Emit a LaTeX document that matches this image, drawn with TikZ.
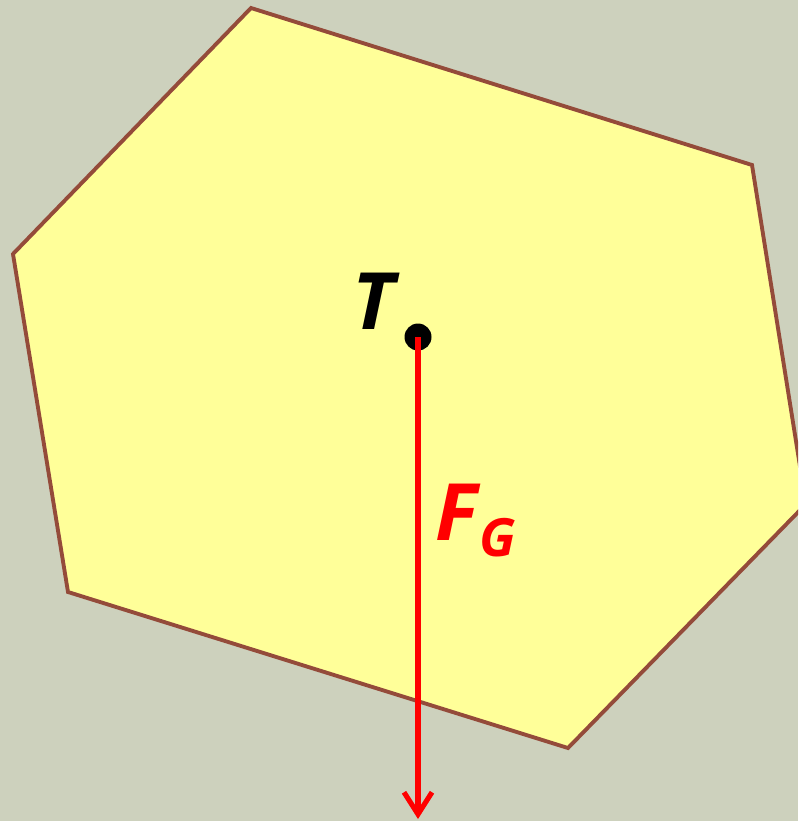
\documentclass[tikz,border=0pt]{standalone}
\usepackage{fontspec}
\setmainfont{Open Sans}
\usepackage{tikz}
\usetikzlibrary{arrows.meta,positioning,calc}
\definecolor{bgsage}{HTML}{CDD1BD}
\definecolor{bodyyellow}{HTML}{FFFF99}
\definecolor{edgebrown}{HTML}{944B3A}
\tikzset{
  bodyedge/.style={draw=edgebrown, fill=bodyyellow, line width=2.2pt, line join=miter},
  forcearrow/.style={draw=red, line width=2.9pt, -{Straight Barb[length=0.44cm, width=0.56cm, line width=2.9pt]}},
  lbl/.style={inner sep=0pt, anchor=base west, font=\fontsize{45}{48}\selectfont\bfseries\itshape}
}

\begin{document}
\begin{tikzpicture}[x=0.02cm, y=-0.02cm]
            % --- background ---
            \fill[bgsage] (0,0) rectangle (798,821);
            \useasboundingbox (0,0) rectangle (798,821);

            % --- Body ---
            \begin{scope}
                \clip (0,0) rectangle (798,821);
                \draw[bodyedge] (251,8) -- (752,165) -- (806,504) -- (568,748)
                    -- (68,592) -- (13,254) -- cycle;
            \end{scope}

            % Centre of gravity
            \node[circle, fill=black, inner sep=0pt, minimum size=0.54cm] (cog) at (418,337) {};
            \node[lbl] (cogT) at (352,329) {T};

            % Weight
            \coordinate (fgend) at (418,819);
            \draw[forcearrow] (cog.center) -- (fgend);
            \node[lbl, text=red] (fglbl) at (435,540) {F\kern1pt\raisebox{-9.6pt}{\fontsize{30}{32}\selectfont G}};
        \end{tikzpicture}
\end{document}
